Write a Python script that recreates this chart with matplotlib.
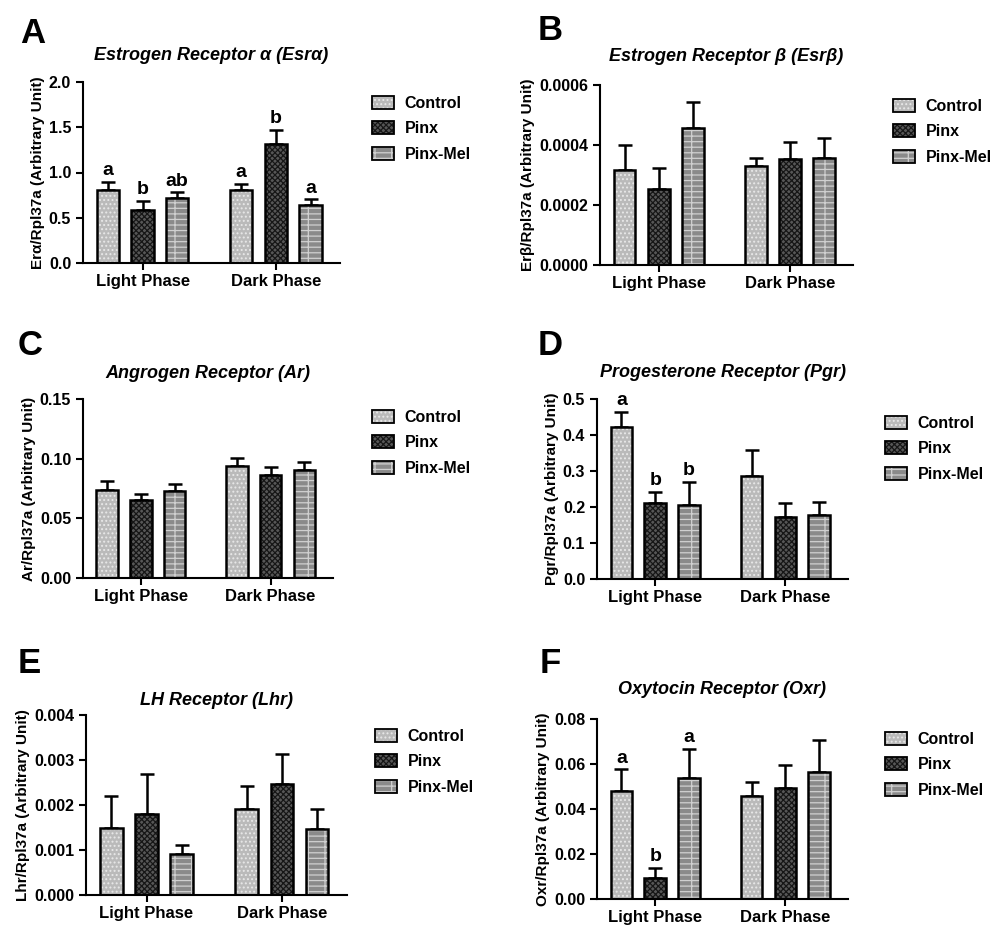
import numpy as np
import matplotlib
matplotlib.use('Agg')
import matplotlib.pyplot as plt
from matplotlib.patches import Patch
from matplotlib.legend_handler import HandlerTuple

plt.rcParams['font.family'] = ['Liberation Sans', 'DejaVu Sans']
plt.rcParams['font.weight'] = 'bold'
plt.rcParams['hatch.linewidth'] = 0.9

GROUPS = ['Light Phase', 'Dark Phase']
SERIES = ['Control', 'Pinx', 'Pinx-Mel']

# order: Light (Control, Pinx, Pinx-Mel), Dark (Control, Pinx, Pinx-Mel)
esra_mean = [0.81, 0.59, 0.715, 0.805, 1.32, 0.64]
esra_sem = [0.09, 0.10, 0.065, 0.066, 0.155, 0.062]
esra_sig = ['a', 'b', 'ab', 'a', 'b', 'a']

esrb_mean = [0.000317, 0.000252, 0.000456, 0.000331, 0.000352, 0.000357]
esrb_sem = [0.000083, 0.000070, 0.000087, 0.000026, 0.000059, 0.000065]
esrb_sig = [''] * 6

ar_mean = [0.0739, 0.0655, 0.0725, 0.0940, 0.0862, 0.0906]
ar_sem = [0.0072, 0.0050, 0.0064, 0.0069, 0.0064, 0.0070]
ar_sig = [''] * 6

pgr_mean = [0.422, 0.212, 0.205, 0.286, 0.173, 0.179]
pgr_sem = [0.042, 0.030, 0.064, 0.072, 0.037, 0.035]
pgr_sig = ['a', 'b', 'b', '', '', '']

lhr_mean = [0.00148, 0.00181, 0.00092, 0.00191, 0.00247, 0.00147]
lhr_sem = [0.00072, 0.00088, 0.00020, 0.00052, 0.00066, 0.00044]
lhr_sig = [''] * 6

oxr_mean = [0.0478, 0.0095, 0.0537, 0.0459, 0.0493, 0.0563]
oxr_sem = [0.0098, 0.0045, 0.0131, 0.0062, 0.0101, 0.0145]
oxr_sig = ['a', 'b', 'a', '', '', '']

# fill colour, hatch colour, hatch pattern per series
STYLES = [('#bababa', '#e8e8e8', '....'),
          ('#575757', '#161616', 'xxxxxx'),
          ('#8a8a8a', '#d0d0d0', '---|')]

W, H = 1000, 939
fig = plt.figure(figsize=(W / 100, H / 100), dpi=100)


def px_rect(left, top, right, bottom):
    return [left / W, 1 - bottom / H, (right - left) / W, (bottom - top) / H]


panels = [
    dict(rect=px_rect(83, 82, 340, 263), letter='A', lpos=(20, 43),
         title='Estrogen Receptor α (Esrα)', pad=16,
         ylabel='Erα/Rpl37a (Arbitrary Unit)', ymax=2.0, step=0.5, fmt='%.1f',
         mean=esra_mean, sem=esra_sem, sig=esra_sig, leg=(372, 96)),
    dict(rect=px_rect(600, 85, 853, 265), letter='B', lpos=(538, 40),
         title='Estrogen Receptor β (Esrβ)', pad=17,
         ylabel='Erβ/Rpl37a (Arbitrary Unit)', ymax=0.0006, step=0.0002, fmt='%.4f',
         mean=esrb_mean, sem=esrb_sem, sig=esrb_sig, leg=(893, 99)),
    dict(rect=px_rect(83, 399, 333, 578), letter='C', lpos=(18, 355),
         title='Angrogen Receptor (Ar)', pad=15,
         ylabel='Ar/Rpl37a (Arbitrary Unit)', ymax=0.15, step=0.05, fmt='%.2f',
         mean=ar_mean, sem=ar_sem, sig=ar_sig, leg=(372, 410)),
    dict(rect=px_rect(597, 399, 848, 579), letter='D', lpos=(538, 355),
         title='Progesterone Receptor (Pgr)', pad=16,
         ylabel='Pgr/Rpl37a (Arbitrary Unit)', ymax=0.5, step=0.1, fmt='%.1f',
         mean=pgr_mean, sem=pgr_sem, sig=pgr_sig, leg=(885, 416)),
    dict(rect=px_rect(86, 715, 347, 895), letter='E', lpos=(18, 673),
         title='LH Receptor (Lhr)', pad=7,
         ylabel='Lhr/Rpl37a (Arbitrary Unit)', ymax=0.004, step=0.001, fmt='%.3f',
         mean=lhr_mean, sem=lhr_sem, sig=lhr_sig, leg=(375, 729)),
    dict(rect=px_rect(597, 719, 848, 899), letter='F', lpos=(540, 673),
         title='Oxytocin Receptor (Oxr)', pad=18,
         ylabel='Oxr/Rpl37a (Arbitrary Unit)', ymax=0.08, step=0.02, fmt='%.2f',
         mean=oxr_mean, sem=oxr_sem, sig=oxr_sig, leg=(885, 732)),
]

gap = 3.85
x = np.array([0, 1, 2, gap, gap + 1, gap + 2])
width = 0.64

for p in panels:
    ax = fig.add_axes(p['rect'])
    mean = np.array(p['mean'])
    sem = np.array(p['sem'])
    ax.errorbar(x, mean, yerr=[np.zeros_like(sem), sem], fmt='none',
                ecolor='black', elinewidth=1.8, capsize=5, capthick=1.8, zorder=1)
    for i in range(6):
        fc, hc, hatch = STYLES[i % 3]
        ax.bar(x[i], mean[i], width, color=fc, edgecolor=hc, hatch=hatch,
               linewidth=0, zorder=2)
        ax.bar(x[i], mean[i], width, facecolor='none', edgecolor='black',
               linewidth=1.8, zorder=3)
        if p['sig'][i]:
            ax.annotate(p['sig'][i], (x[i], mean[i] + sem[i]), xytext=(0, 2),
                        textcoords='offset points', ha='center', va='bottom',
                        fontsize=14, fontweight='bold')

    ax.set_xlim(-0.72, x[-1] + 0.85)
    ax.set_ylim(0, p['ymax'])
    ax.set_yticks(np.linspace(0, p['ymax'], int(round(p['ymax'] / p['step'])) + 1))
    ax.yaxis.set_major_formatter(matplotlib.ticker.FormatStrFormatter(p['fmt']))
    ax.set_xticks([1, gap + 1])
    ax.set_xticklabels(GROUPS, fontsize=12, fontweight='bold')
    ax.tick_params(axis='y', labelsize=11.5, width=1.5, length=5)
    ax.tick_params(axis='x', width=1.5, length=5, pad=3)
    for lab in ax.get_yticklabels():
        lab.set_fontweight('bold')
    for s in ['top', 'right']:
        ax.spines[s].set_visible(False)
    for s in ['left', 'bottom']:
        ax.spines[s].set_linewidth(1.5)
    ax.set_ylabel(p['ylabel'], fontsize=11, fontweight='bold', labelpad=3)
    ax.set_title(p['title'], fontsize=13, fontweight='bold', style='italic', pad=p['pad'])

    handles = []
    for fc, hc, hatch in STYLES:
        handles.append((Patch(facecolor=fc, edgecolor=hc, hatch=hatch, linewidth=0),
                        Patch(facecolor='none', edgecolor='black', linewidth=1.3)))
    lx, ly = p['leg']
    ax.legend(handles, SERIES, handler_map={tuple: HandlerTuple(ndivide=1, pad=0)},
              loc='upper left', bbox_to_anchor=(lx / W, 1 - ly / H),
              bbox_transform=fig.transFigure, frameon=False, borderpad=0,
              borderaxespad=0, handlelength=1.4, handleheight=0.85,
              handletextpad=0.65, labelspacing=0.65, prop=dict(size=11.5, weight='bold'))

    fig.text(p['lpos'][0] / W, 1 - p['lpos'][1] / H, p['letter'],
             fontsize=25, fontweight='bold', va='baseline', ha='left')

fig.savefig('out.png', dpi=100)
